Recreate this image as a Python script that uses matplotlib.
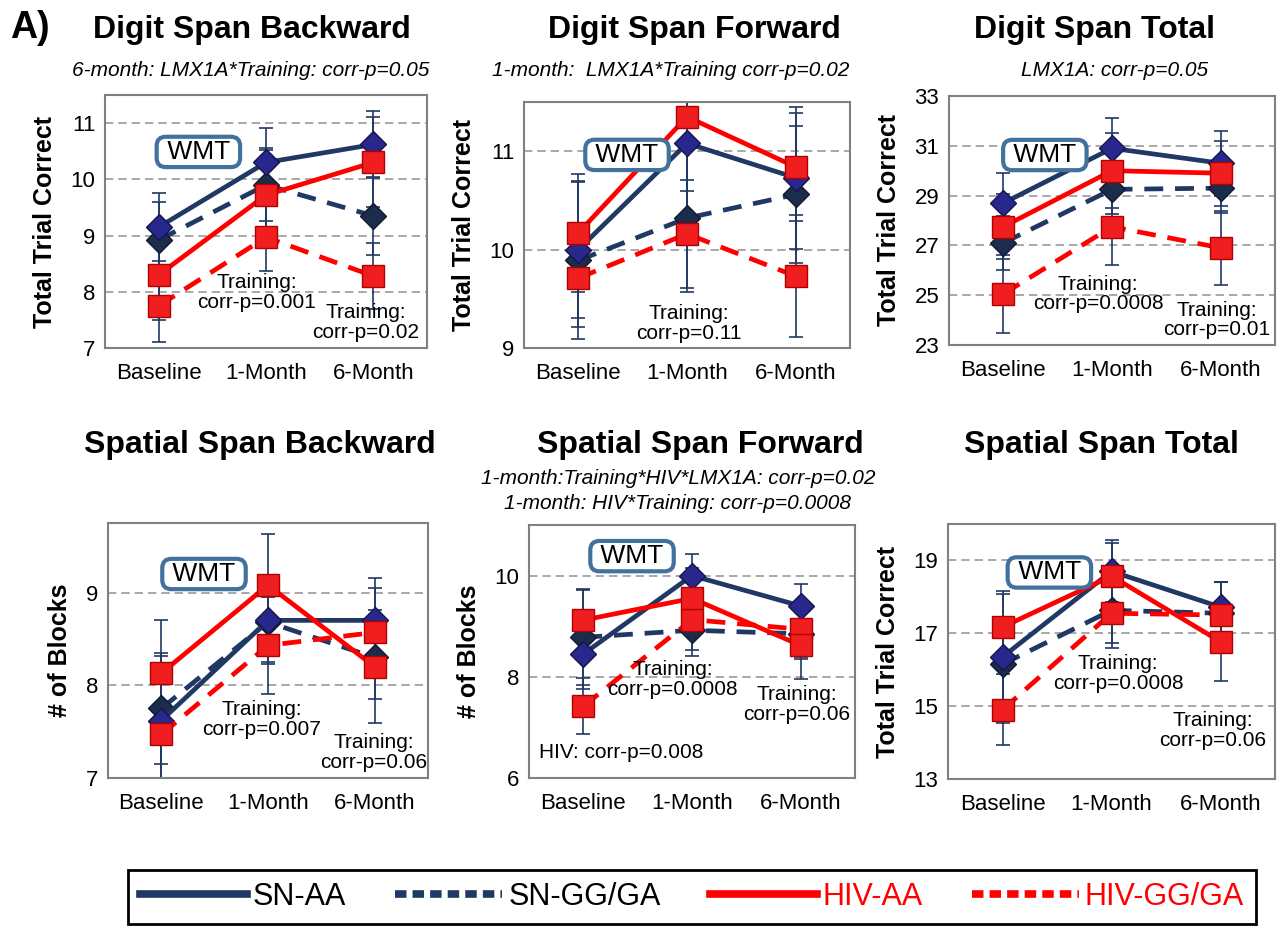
import matplotlib.pyplot as plt
from matplotlib.lines import Line2D
from matplotlib import font_manager

plt.rcParams['font.family'] = ['Liberation Sans', 'DejaVu Sans']

visitas = ['Baseline', '1-Month', '6-Month']
grupos = ['SN-AA', 'SN-GG/GA', 'HIV-AA', 'HIV-GG/GA']

# médias e erros (linhas: SN-AA, SN-GG/GA, HIV-AA, HIV-GG/GA)
dsb_media = [[9.15, 10.3, 10.62], [8.92, 9.9, 9.35], [8.3, 9.72, 10.3], [7.75, 8.97, 8.28]]
dsb_erro = [[0.6, 0.62, 0.6], [0.68, 0.65, 0.7], [0.8, 0.8, 0.8], [0.65, 0.6, 0.58]]

dsf_media = [[10.0, 11.08, 10.73], [9.89, 10.32, 10.56], [10.17, 11.35, 10.84], [9.71, 10.16, 9.73]]
dsf_erro = [[0.7, 0.8, 0.72], [0.8, 0.75, 0.7], [0.6, 0.75, 0.55], [0.5, 0.55, 0.62]]

dst_media = [[28.7, 30.9, 30.3], [27.1, 29.25, 29.3], [27.75, 30.0, 29.9], [25.05, 27.75, 26.9]]
dst_erro = [[1.2, 1.2, 1.3], [1.1, 1.0, 1.0], [1.3, 1.5, 1.3], [1.55, 1.55, 1.5]]

ssb_media = [[7.62, 8.7, 8.7], [7.75, 8.68, 8.3], [8.13, 9.08, 8.2], [7.47, 8.43, 8.57]]
ssb_erro = [[0.7, 0.45, 0.46], [0.6, 0.45, 0.45], [0.57, 0.55, 0.61], [0.55, 0.52, 0.48]]

ssf_media = [[8.45, 10.0, 9.4], [8.78, 8.92, 8.85], [9.12, 9.55, 8.62], [7.42, 9.13, 8.94]]
ssf_erro = [[0.7, 0.43, 0.44], [0.95, 0.5, 0.5], [0.6, 0.6, 0.66], [0.55, 0.6, 0.55]]

sst_media = [[16.35, 18.7, 17.72], [16.15, 17.63, 17.55], [17.17, 18.57, 16.77], [14.9, 17.55, 17.5]]
sst_erro = [[1.8, 0.85, 0.7], [1.3, 0.9, 0.85], [0.9, 0.9, 1.09], [0.97, 0.96, 0.9]]

W, H = 1280, 930
NAVY = '#1f3864'
RED = '#ff0000'
tracejado = (0, (4, 2.5))

estilos = [
    dict(color=NAVY, ls='-', marker='D', mfc='#28288c', mec='#15154f', ms=13),
    dict(color=NAVY, ls=tracejado, marker='D', mfc='#1c2c4c', mec='#101a30', ms=13),
    dict(color=RED, ls='-', marker='s', mfc='#f01e1e', mec='#b00000', ms=15.5),
    dict(color=RED, ls=tracejado, marker='s', mfc='#f01e1e', mec='#b00000', ms=15.5),
]

fig = plt.figure(figsize=(12.8, 9.3), dpi=100)


def caixa(l, r, t, b):
    return [l / W, 1 - b / H, (r - l) / W, (b - t) / H]


def painel(pos, media, erro, ylim, yticks, ylabel, wmt, notas):
    ax = fig.add_axes(caixa(*pos))
    x = range(len(visitas))
    for m, e in zip(media, erro):
        ax.errorbar(x, m, yerr=e, fmt='none', ecolor=NAVY, elinewidth=1.2,
                    capsize=5, capthick=1.2, zorder=2)
    for i in [1, 0, 3, 2]:
        ax.plot(x, media[i], lw=3.4, zorder=3, **estilos[i])
    ax.set_xlim(-0.5, 2.5)
    ax.set_ylim(*ylim)
    ax.set_yticks(yticks)
    ax.set_xticks(list(x))
    ax.set_xticklabels(visitas)
    ax.tick_params(length=0, labelsize=16)
    ax.tick_params(axis='x', pad=11)
    ax.tick_params(axis='y', pad=7)
    ax.yaxis.grid(True, ls=(0, (5, 3)), color='#999999', lw=1.2)
    ax.set_axisbelow(True)
    for s in ax.spines.values():
        s.set_color('#808080')
        s.set_linewidth(1.5)
    ax.set_ylabel(ylabel, fontsize=18, fontweight='bold', labelpad=10)
    ax.text(wmt[0], wmt[1], ' WMT ', transform=ax.transAxes, ha='center', va='center',
            fontsize=19, zorder=6,
            bbox=dict(boxstyle='round,pad=0.12,rounding_size=0.35', fc='white',
                      ec='#41719c', lw=3))
    for fx, fy, txt in notas:
        ax.text(fx, fy, txt, transform=ax.transAxes, ha='center', va='center',
                fontsize=15, linespacing=1.05, zorder=7)
    return ax


painel((105, 427, 95, 348), dsb_media, dsb_erro, (7, 11.5), [7, 8, 9, 10, 11],
       'Total Trial Correct', (0.29, 0.775),
       [(0.47, 0.22, 'Training:\ncorr-p=0.001'), (0.81, 0.10, 'Training:\ncorr-p=0.02')])
painel((524, 850, 102, 348), dsf_media, dsf_erro, (9, 11.5), [9, 10, 11],
       'Total Trial Correct', (0.316, 0.785),
       [(0.506, 0.10, 'Training:\ncorr-p=0.11')])
painel((949, 1275, 96, 345), dst_media, dst_erro, (23, 33), [23, 25, 27, 29, 31, 33],
       'Total Trial Correct', (0.294, 0.763),
       [(0.457, 0.205, 'Training:\ncorr-p=0.0008'), (0.82, 0.10, 'Training:\ncorr-p=0.01')])
painel((108, 428, 523, 778), ssb_media, ssb_erro, (7, 9.75), [7, 8, 9],
       '# of Blocks', (0.30, 0.80),
       [(0.48, 0.23, 'Training:\ncorr-p=0.007'), (0.83, 0.10, 'Training:\ncorr-p=0.06')])
ax5 = painel((529, 855, 525, 778), ssf_media, ssf_erro, (6, 11), [6, 8, 10],
             '# of Blocks', (0.316, 0.877),
             [(0.44, 0.39, 'Training:\ncorr-p=0.0008'), (0.82, 0.29, 'Training:\ncorr-p=0.06')])
ax5.text(0.03, 0.10, 'HIV: corr-p=0.008', transform=ax5.transAxes, ha='left', va='center',
         fontsize=15, zorder=7)
painel((948, 1275, 524, 779), sst_media, sst_erro, (13, 20), [13, 15, 17, 19],
       'Total Trial Correct', (0.31, 0.81),
       [(0.52, 0.415, 'Training:\ncorr-p=0.0008'), (0.81, 0.19, 'Training:\ncorr-p=0.06')])


def texto(px, py, s, **kw):
    fig.text(px / W, 1 - py / H, s, ha='center', va='center', **kw)


fig.text(10 / W, 1 - 28 / H, 'A)', ha='left', va='center', fontsize=27, fontweight='bold')
texto(252, 30, 'Digit Span Backward', fontsize=23, fontweight='bold')
texto(694, 30, 'Digit Span Forward', fontsize=23, fontweight='bold')
texto(1094, 30, 'Digit Span Total', fontsize=23, fontweight='bold')
texto(251, 70, '6-month: LMX1A*Training: corr-p=0.05', fontsize=15, style='italic')
texto(671, 70, '1-month:  LMX1A*Training corr-p=0.02', fontsize=15, style='italic')
texto(1115, 70, 'LMX1A: corr-p=0.05', fontsize=15, style='italic')
texto(260, 445, 'Spatial Span Backward', fontsize=23, fontweight='bold')
texto(700, 445, 'Spatial Span Forward', fontsize=23, fontweight='bold')
texto(1101, 445, 'Spatial Span Total', fontsize=23, fontweight='bold')
texto(678, 478, '1-month:Training*HIV*LMX1A: corr-p=0.02', fontsize=15, style='italic')
texto(678, 503, '1-month: HIV*Training: corr-p=0.0008', fontsize=15, style='italic')

# legenda comum
nomes = {f.name for f in font_manager.fontManager.ttflist}
narrow = 'Liberation Sans Narrow' in nomes
leg_fonte = dict(family='Liberation Sans Narrow' if narrow else 'Liberation Sans',
                 size=26 if narrow else 22)
handles = [
    Line2D([], [], color=NAVY, lw=5.5, ls='-'),
    Line2D([], [], color=NAVY, lw=5.5, ls=(0, (1.5, 0.8))),
    Line2D([], [], color=RED, lw=5.5, ls='-'),
    Line2D([], [], color=RED, lw=5.5, ls=(0, (1.5, 0.8))),
]
leg = fig.legend(handles, grupos, loc='center', bbox_to_anchor=(692 / W, 1 - 897 / H),
                 ncol=4, prop=leg_fonte, handlelength=3.5, handletextpad=0.2,
                 columnspacing=1.6, fancybox=False, edgecolor='black', framealpha=1,
                 borderpad=0.4)
leg.get_frame().set_linewidth(2)
for t, c in zip(leg.get_texts(), ['black', 'black', RED, RED]):
    t.set_color(c)

plt.savefig('out.png', dpi=100)
